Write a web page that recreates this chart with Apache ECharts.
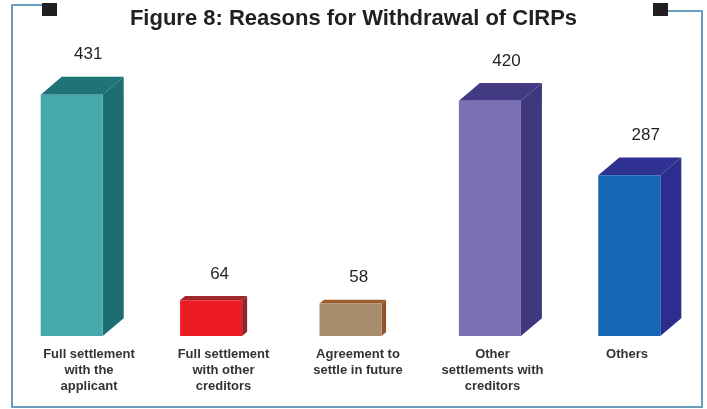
<!DOCTYPE html>
<html>
<head>
<meta charset="utf-8">
<script src="https://cdn.jsdelivr.net/npm/echarts@6/dist/echarts.min.js"></script>
<style>
html,body{margin:0;padding:0;background:#fff;}
#chart{width:707px;height:409px;}
</style>
</head>
<body>
<div id="chart"></div>
<script>
// ---- data ----
const categories = [
  'Full settlement\nwith the\napplicant',
  'Full settlement\nwith other\ncreditors',
  'Agreement to\nsettle in future',
  'Other\nsettlements with\ncreditors',
  'Others'
];
const values = [431, 64, 58, 420, 287];
const titleText = 'Figure 8: Reasons for Withdrawal of CIRPs';

// ---- styles ----
const frontColors = ['#46a8ac', '#ed1c24', '#a88c6b', '#7a70b3', '#1467b4'];
const topColors   = ['#1f7478', '#9e262c', '#9c5d2d', '#433a84', '#2e3191'];
const sideColors  = ['#1c6e72', '#8c272c', '#925529', '#3f387f', '#2b2e8c'];

const chart = echarts.init(document.getElementById('chart'), null, {renderer: 'canvas'});

function renderItem(params, api) {
  const idx = api.value(0);
  const v = api.value(1);
  const top = api.coord([idx, v]);
  const base = api.coord([idx, 0]);
  const band = api.size([1, 0])[0];
  const w = band * 0.445;
  const x0 = top[0] - w / 2, x1 = top[0] + w / 2;
  const h = base[1] - top[1];
  const dx = Math.min(21, h * 0.14);
  const dy = dx * 0.85;
  return {
    type: 'group',
    children: [
      {type: 'polygon', shape: {points: [[x1, top[1]], [x1 + dx, top[1] - dy], [x1 + dx, base[1] - dy], [x1, base[1]]]},
        style: {fill: sideColors[idx]}},
      {type: 'polygon', shape: {points: [[x0, top[1]], [x1, top[1]], [x1 + dx, top[1] - dy], [x0 + dx, top[1] - dy]]},
        style: {fill: topColors[idx]}},
      {type: 'rect', shape: {x: x0, y: top[1], width: w, height: h},
        style: {fill: frontColors[idx]}},
      {type: 'text', x: top[0] + dx / 2 + 6, y: top[1] - dy - 22,
        style: {text: String(v), fill: '#231f20', font: '17px "Liberation Sans", Arial, sans-serif',
          align: 'center', verticalAlign: 'middle'}}
    ]
  };
}

chart.setOption({
  backgroundColor: '#ffffff',
  animation: false,
  title: {
    text: titleText,
    left: 'center',
    top: 3,
    textStyle: {fontFamily: '"Liberation Sans", Arial, sans-serif', fontWeight: 'bold', fontSize: 22, color: '#231f20'}
  },
  grid: [
    {left: 2, right: 8, top: 56, bottom: 73},
    {left: 21.75, right: 12.75, top: 56, bottom: 73}
  ],
  xAxis: [
    {type: 'category', gridIndex: 0, data: categories,
      axisLine: {show: false}, axisTick: {show: false}, axisLabel: {show: false}},
    {type: 'category', gridIndex: 1, data: categories,
      axisLine: {show: false}, axisTick: {show: false},
      axisLabel: {show: true, interval: 0, margin: 10, fontSize: 13, fontWeight: 'bold', lineHeight: 16,
        color: '#333333', fontFamily: '"Liberation Sans", Arial, sans-serif', align: 'center'}}
  ],
  yAxis: [
    {type: 'value', gridIndex: 0, min: 0, max: 500, show: false},
    {type: 'value', gridIndex: 1, min: 0, max: 500, show: false}
  ],
  graphic: [
    {type: 'polyline', shape: {points: [[42, 5], [12, 5], [12, 407], [702, 407], [702, 11], [668, 11]]},
      style: {stroke: '#6a9ec0', lineWidth: 2, fill: null}, silent: true},
    {type: 'rect', shape: {x: 42, y: 3, width: 15, height: 13}, style: {fill: '#231f20'}},
    {type: 'rect', shape: {x: 653, y: 3, width: 15, height: 13}, style: {fill: '#231f20'}}
  ],
  series: [{
    type: 'custom',
    xAxisIndex: 0,
    yAxisIndex: 0,
    renderItem: renderItem,
    encode: {x: 0, y: 1},
    data: values.map((v, i) => [i, v])
  }]
});
</script>
</body>
</html>
